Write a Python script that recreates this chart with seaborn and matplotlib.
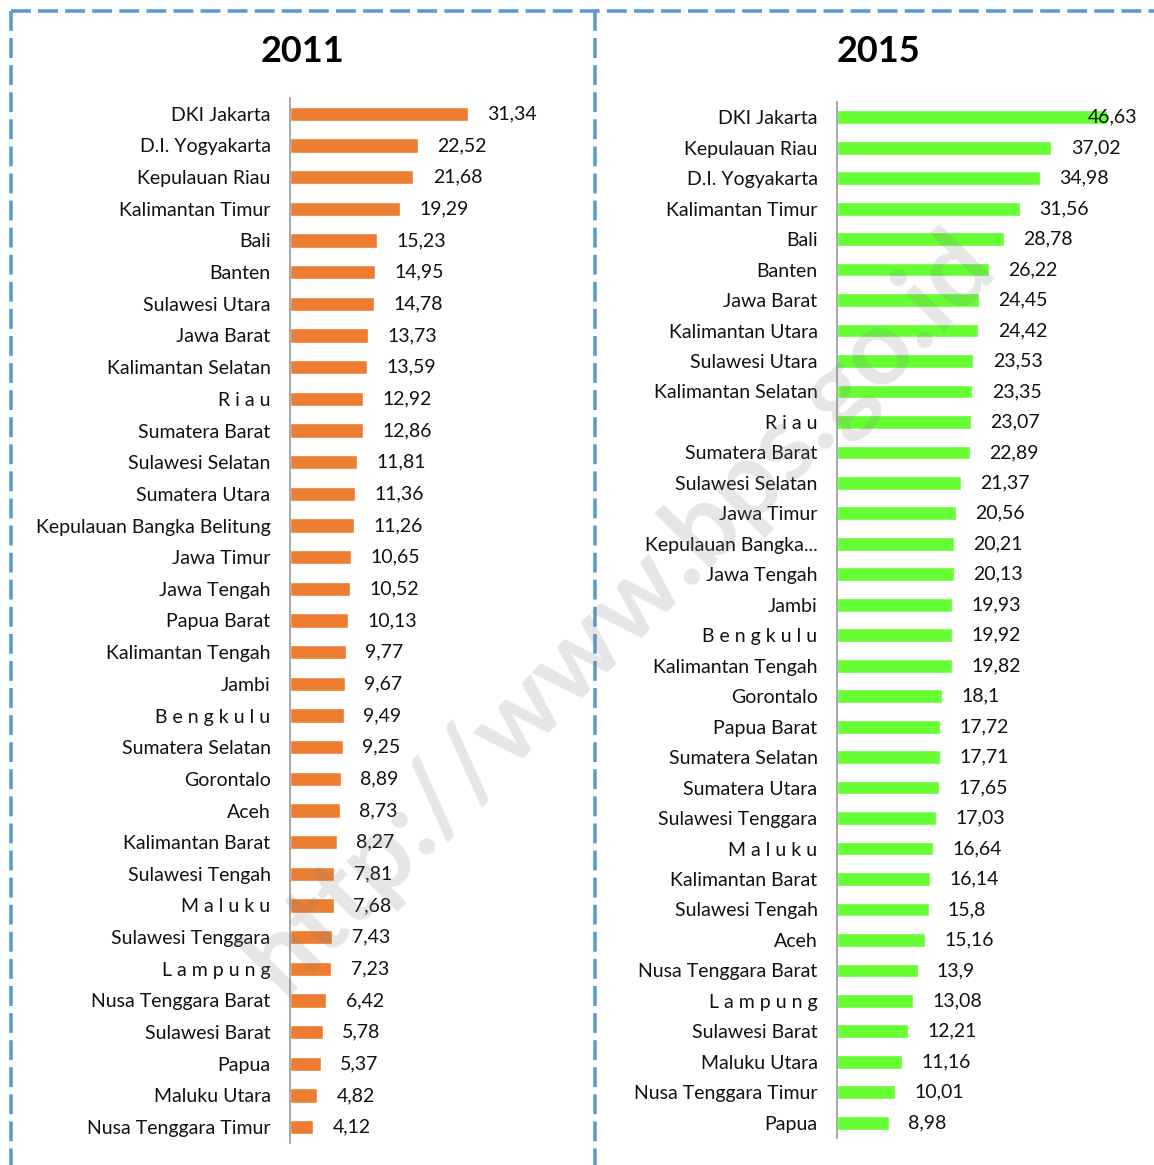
import numpy as np
import seaborn as sns
import matplotlib.pyplot as plt
from matplotlib.lines import Line2D

# Data
prov_2011 = ['DKI Jakarta', 'D.I. Yogyakarta', 'Kepulauan Riau', 'Kalimantan Timur', 'Bali',
             'Banten', 'Sulawesi Utara', 'Jawa Barat', 'Kalimantan Selatan', 'R i a u',
             'Sumatera Barat', 'Sulawesi Selatan', 'Sumatera Utara', 'Kepulauan Bangka Belitung',
             'Jawa Timur', 'Jawa Tengah', 'Papua Barat', 'Kalimantan Tengah', 'Jambi',
             'B e n g k u l u', 'Sumatera Selatan', 'Gorontalo', 'Aceh', 'Kalimantan Barat',
             'Sulawesi Tengah', 'M a l u k u', 'Sulawesi Tenggara', 'L a m p u n g',
             'Nusa Tenggara Barat', 'Sulawesi Barat', 'Papua', 'Maluku Utara', 'Nusa Tenggara Timur']
val_2011 = [31.34, 22.52, 21.68, 19.29, 15.23, 14.95, 14.78, 13.73, 13.59, 12.92,
            12.86, 11.81, 11.36, 11.26, 10.65, 10.52, 10.13, 9.77, 9.67, 9.49,
            9.25, 8.89, 8.73, 8.27, 7.81, 7.68, 7.43, 7.23, 6.42, 5.78,
            5.37, 4.82, 4.12]

prov_2015 = ['DKI Jakarta', 'Kepulauan Riau', 'D.I. Yogyakarta', 'Kalimantan Timur', 'Bali',
             'Banten', 'Jawa Barat', 'Kalimantan Utara', 'Sulawesi Utara', 'Kalimantan Selatan',
             'R i a u', 'Sumatera Barat', 'Sulawesi Selatan', 'Jawa Timur', 'Kepulauan Bangka...',
             'Jawa Tengah', 'Jambi', 'B e n g k u l u', 'Kalimantan Tengah', 'Gorontalo',
             'Papua Barat', 'Sumatera Selatan', 'Sumatera Utara', 'Sulawesi Tenggara', 'M a l u k u',
             'Kalimantan Barat', 'Sulawesi Tengah', 'Aceh', 'Nusa Tenggara Barat', 'L a m p u n g',
             'Sulawesi Barat', 'Maluku Utara', 'Nusa Tenggara Timur', 'Papua']
val_2015 = [46.63, 37.02, 34.98, 31.56, 28.78, 26.22, 24.45, 24.42, 23.53, 23.35,
            23.07, 22.89, 21.37, 20.56, 20.21, 20.13, 19.93, 19.92, 19.82, 18.1,
            17.72, 17.71, 17.65, 17.03, 16.64, 16.14, 15.8, 15.16, 13.9, 13.08,
            12.21, 11.16, 10.01, 8.98]

W, H = 1154, 1165
sns.set_style('white')
plt.rcParams['font.family'] = ['Lato', 'DejaVu Sans']

fig = plt.figure(figsize=(W / 100, H / 100), dpi=100)


def px_axes(x0, y0, x1, y1):
    # pixel box (top-left origin) -> figure axes
    return fig.add_axes([x0 / W, 1 - y1 / H, (x1 - x0) / W, (y1 - y0) / H])


def draw_panel(ax, cats, vals, color, xmax, title, title_x):
    sns.barplot(x=vals, y=cats, orient='h', color=color, saturation=1,
                width=0.45, ax=ax)
    n = len(cats)
    ax.set_xlim(0, xmax)
    ax.set_ylim(n - 0.5, -0.5)
    ax.set_xlabel('')
    ax.set_ylabel('')
    ax.set_xticks([])
    for s in ['top', 'right', 'bottom']:
        ax.spines[s].set_visible(False)
    ax.spines['left'].set_color('#a0a0a0')
    ax.spines['left'].set_linewidth(1.3)
    ax.set_yticks(np.arange(-0.5, n, 1), minor=True)
    ax.tick_params(axis='y', which='major', length=0, pad=14, labelsize=14,
                   labelcolor='#111111')
    ax.tick_params(axis='y', which='minor', length=6, width=1.2, color='#a0a0a0')

    renderer = fig.canvas.get_renderer()
    for i, v in enumerate(vals):
        t = ax.annotate(f'{v:g}'.replace('.', ','), xy=(v, i), xytext=(14, 0),
                        textcoords='offset points', ha='left', va='center',
                        fontsize=14, color='#111111')
        bb = t.get_window_extent(renderer)
        ax_right = ax.get_window_extent(renderer).x1
        if bb.x1 > ax_right:
            # Excel pulls the label back inside the plot area
            t.set_position((-(bb.x1 - ax_right) / fig.dpi * 72 + 14, 0))

    fig.text(title_x / W, 1 - 52 / H, title, ha='center', va='center',
             fontsize=26, fontweight='bold', color='black')


ax1 = px_axes(290, 98, 560, 1143)
draw_panel(ax1, prov_2011, val_2011, '#ED7D31', 47.5, '2011', 302)

ax2 = px_axes(837, 102, 1137, 1138)
draw_panel(ax2, prov_2015, val_2015, '#66FF33', 51.8, '2015', 878)

# dashed panel borders
border = dict(color='#5B9BD5', linewidth=2.6, linestyle=(0, (5.5, 2)))
for xs, ys in [((11, W), (11, 11)), ((11, 11), (11, H)), ((595, 595), (11, H))]:
    fig.add_artist(Line2D([x / W for x in xs], [1 - y / H for y in ys], **border))

# watermark
fig.text(620 / W, 1 - 612 / H, 'http://www.bps.go.id', rotation=45.5,
         ha='center', va='center', fontsize=76, fontweight='bold',
         color='#808080', alpha=0.2, rotation_mode='anchor')

plt.savefig('out.png', dpi=100)
plt.close()
